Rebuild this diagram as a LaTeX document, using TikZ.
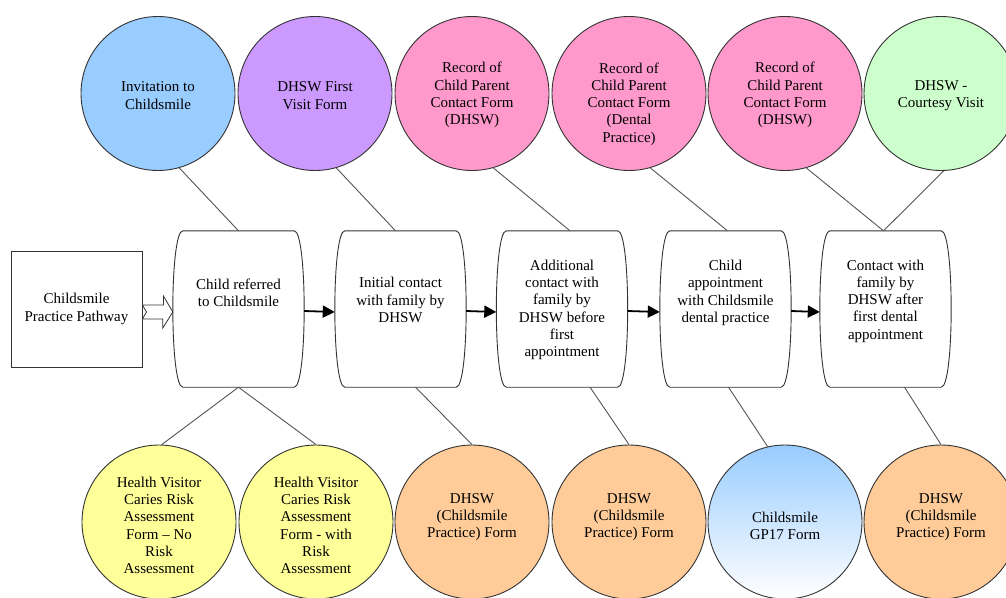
\documentclass[tikz,border=0pt]{standalone}
\usepackage{fontspec}
\setmainfont{Liberation Serif}
\usetikzlibrary{arrows.meta}
\definecolor{cblue}{HTML}{99CCFF}
\definecolor{cpurple}{HTML}{CC99FF}
\definecolor{cpink}{HTML}{FF99CC}
\definecolor{cgreen}{HTML}{CCFFCC}
\definecolor{cyellow}{HTML}{FFFF99}
\definecolor{corange}{HTML}{FFCC99}
\definecolor{edge}{HTML}{333333}
\definecolor{connc}{HTML}{555555}
\newcommand\barrel[1]{%
 \draw[boxline] ([xshift=10]#1.north west) -- ([xshift=-10]#1.north east)
   .. controls ([xshift=3.3]#1.north east) and ([xshift=3.3]#1.south east) .. ([xshift=-10]#1.south east)
   -- ([xshift=10]#1.south west)
   .. controls ([xshift=-3.3]#1.south west) and ([xshift=-3.3]#1.north west) .. cycle;}
\begin{document}
\begin{tikzpicture}[x=1pt,y=-1pt,
  form/.style={circle,draw=edge,line width=0.9pt,minimum size=154pt,inner sep=0pt},
  txt/.style={font=\fontsize{15}{17.3}\selectfont,align=center,inner sep=0pt,text=black},
  stepbox/.style={rectangle,minimum width=131pt,minimum height=156pt,inner sep=0pt},
  boxline/.style={draw=edge,line width=0.9pt,fill=white},
  conn/.style={draw=connc,line width=0.9pt},
  flow/.style={draw=black,line width=1.8pt,-{Triangle[length=12pt,width=12pt]}},
  openarrow/.style={draw=edge,line width=0.8pt,fill=white}]
\useasboundingbox (0,0) rectangle (1006,597);
\clip (0,0) rectangle (1006,597);
\fill[white] (0,0) rectangle (1006,597);

% top circles
\node[form,fill=cblue]   (c1) at (158,93.5) {};
\node[form,fill=cpurple] (c2) at (315,93.5) {};
\node[form,fill=cpink]   (c3) at (472,93.5) {};
\node[form,fill=cpink]   (c4) at (629,93.5) {};
\node[form,fill=cpink]   (c5) at (785,93.5) {};
\node[form,fill=cgreen]  (c6) at (941,93.5) {};
\node[txt] at (158,95.5) {Invitation to\\Childsmile};
\node[txt] at (315,95.5) {DHSW First\\Visit Form};
\node[txt] at (472,95) {Record of\\Child Parent\\Contact Form\\(DHSW)};
\node[txt] at (629,104) {Record of\\Child Parent\\Contact Form\\(Dental\\Practice)};
\node[txt] at (785,95) {Record of\\Child Parent\\Contact Form\\(DHSW)};
\node[txt] at (941,95.5) {DHSW -\\Courtesy Visit};

% bottom circles
\node[form,fill=cyellow] (d1) at (159,522) {};
\node[form,fill=cyellow] (d2) at (316,522) {};
\node[form,fill=corange] (d3) at (472,522) {};
\node[form,fill=corange] (d4) at (629,522) {};
\node[form,top color=cblue,bottom color=white] (d5) at (785,522) {};
\node[form,fill=corange] (d6) at (941,522) {};
\node[txt] at (159,525.5) {Health Visitor\\Caries Risk\\Assessment\\Form -- No\\Risk\\Assessment};
\node[txt] at (316,525.5) {Health Visitor\\Caries Risk\\Assessment\\Form - with\\Risk\\Assessment};
\node[txt] at (472,517) {DHSW\\(Childsmile\\Practice) Form};
\node[txt] at (629,517) {DHSW\\(Childsmile\\Practice) Form};
\node[txt] at (785,526) {Childsmile\\GP17 Form};
\node[txt] at (941,517) {DHSW\\(Childsmile\\Practice) Form};

% start rectangle
\node[rectangle,draw=edge,line width=0.9pt,fill=white,minimum width=131pt,minimum height=116pt,inner sep=0pt] (r) at (76.5,309) {};
\node[txt] at (76.5,309) {Childsmile\\Practice Pathway};

% process boxes
\node[stepbox] (b1) at (238.5,309) {};
\node[stepbox] (b2) at (400.5,309) {};
\node[stepbox] (b3) at (562,309) {};
\node[stepbox] (b4) at (725.5,309) {};
\node[stepbox] (b5) at (885.5,309) {};
\barrel{b1}\barrel{b2}\barrel{b3}\barrel{b4}\barrel{b5}
\node[txt] at (238.5,292.5) {Child referred\\to Childsmile};
\node[txt] at (400.5,300) {Initial contact\\with family by\\DHSW};
\node[txt] at (562,310) {Additional\\contact with\\family by\\DHSW before\\first\\appointment};
\node[txt] at (725.5,293) {Child\\appointment\\with Childsmile\\dental practice};
\node[txt] at (885.5,301) {Contact with\\family by\\DHSW after\\first dental\\appointment};

% open arrow
\draw[openarrow] ([yshift=4]r.east) -- ++(21,0) -- ++(0,-9) -- ([yshift=-3]b1.west)
  -- ++(-10,16) -- ++(0,-9) -- ([yshift=-10]r.east) -- ([xshift=4,yshift=-3]r.east) -- cycle;

% flow arrows
\draw[flow] ([yshift=-2]b1.east) -- ([yshift=-3]b2.west);
\draw[flow] ([yshift=-2]b2.east) -- ([yshift=-3]b3.west);
\draw[flow] ([yshift=-2]b3.east) -- ([yshift=-3]b4.west);
\draw[flow] ([yshift=-2]b4.east) -- ([yshift=-3]b5.west);

% connectors top
\draw[conn] (c1.-74) -- (b1.north);
\draw[conn] (c2.-74) -- ([xshift=-5]b2.north);
\draw[conn] (c3.-74) -- ([xshift=8]b3.north);
\draw[conn] (c4.-74) -- ([xshift=2]b4.north);
\draw[conn] (c5.-74) -- ([xshift=-2]b5.north);
\draw[conn] (c6.-88) -- ([xshift=-2]b5.north);
% connectors bottom
\draw[conn] (b1.south) -- (d1.88);
\draw[conn] (b1.south) -- (d2.north);
\draw[conn] ([xshift=15]b2.south) -- (d3.north);
\draw[conn] ([xshift=28]b3.south) -- (d4.north);
\draw[conn] ([xshift=3]b4.south) -- (d5.103);
\draw[conn] ([xshift=19]b5.south) -- (d6.north);
\end{tikzpicture}
\end{document}
